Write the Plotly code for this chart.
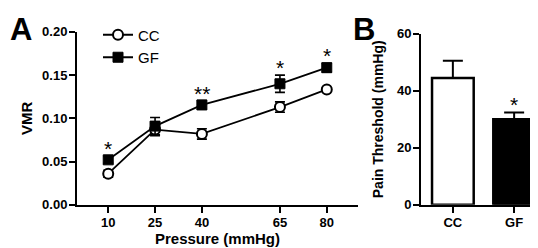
import plotly.graph_objects as go

# Panel A data
pressure = [10, 25, 40, 65, 80]
cc_vmr = [0.036, 0.087, 0.082, 0.113, 0.1335]
cc_err = [0.004, 0.007, 0.006, 0.006, 0.002]
gf_vmr = [0.052, 0.091, 0.1155, 0.140, 0.1586]
gf_err = [0.004, 0.010, 0.005, 0.010, 0.005]
sig_a = ["*", "", "**", "*", "*"]

# Panel B data
groups = ["CC", "GF"]
threshold = [44.5, 30.0]
threshold_err = [6.0, 2.4]
sig_b = ["", "*"]

FONT = "Liberation Sans, Arial, sans-serif"

fig = go.Figure()

fig.add_trace(go.Scatter(
    x=pressure, y=cc_vmr, name="CC", mode="lines+markers",
    line=dict(color="black", width=1.8),
    marker=dict(symbol="circle", size=10, color="white", line=dict(color="black", width=2)),
    error_y=dict(type="data", array=cc_err, color="black", thickness=1.6, width=5),
    xaxis="x", yaxis="y"))
fig.add_trace(go.Scatter(
    x=pressure, y=gf_vmr, name="GF", mode="lines+markers",
    line=dict(color="black", width=1.8),
    marker=dict(symbol="square", size=10, color="black", line=dict(color="black", width=1)),
    error_y=dict(type="data", array=gf_err, color="black", thickness=1.6, width=5),
    xaxis="x", yaxis="y"))

fig.add_trace(go.Bar(
    x=groups, y=threshold, showlegend=False,
    marker=dict(color=["white", "black"], line=dict(color="black", width=2.5)),
    width=0.68,
    error_y=dict(type="data", symmetric=False, array=threshold_err,
                 arrayminus=[0, 0], color="black", thickness=2, width=10),
    xaxis="x2", yaxis="y2"))

annotations = []
for x, y, e, s in zip(pressure, gf_vmr, gf_err, sig_a):
    if s:
        annotations.append(dict(x=x, y=y + e, xref="x", yref="y", text=s,
                                showarrow=False, yanchor="bottom", yshift=-6,
                                font=dict(family=FONT, size=21, color="black")))
for g, y, e, s in zip(groups, threshold, threshold_err, sig_b):
    if s:
        annotations.append(dict(x=g, y=y + e, xref="x2", yref="y2", text=s,
                                showarrow=False, yanchor="bottom", yshift=-6,
                                font=dict(family=FONT, size=21, color="black")))
annotations.append(dict(x=0, y=1.0, xref="paper", yref="paper", text="<b>A</b>",
                        showarrow=False, xanchor="left", yanchor="top", yshift=5,
                        font=dict(family=FONT, size=31, color="black")))
annotations.append(dict(x=343 / 538, y=1.0, xref="paper", yref="paper", text="<b>B</b>",
                        showarrow=False, xanchor="left", yanchor="top", yshift=5,
                        font=dict(family=FONT, size=31, color="black")))

axis_common = dict(showline=True, linecolor="black", linewidth=2, ticks="outside",
                   ticklen=6, tickwidth=2, tickcolor="black", showgrid=False,
                   zeroline=False, ticklabelstandoff=-1,
                   tickfont=dict(family=FONT, size=13, color="black", weight="bold"))

fig.update_layout(
    width=538, height=248,
    margin=dict(l=0, r=0, t=0, b=0),
    paper_bgcolor="white", plot_bgcolor="white",
    font=dict(family=FONT, color="black"),
    showlegend=True,
    legend=dict(x=90 / 538, y=0.985, xanchor="left", yanchor="top",
                bgcolor="rgba(0,0,0,0)", font=dict(family=FONT, size=15, color="black"),
                tracegroupgap=0, itemwidth=30),
    xaxis=dict(domain=[69 / 538, 350 / 538], range=[0, 90],
               tickvals=pressure, ticktext=[str(p) for p in pressure],
               title=dict(text="<b>Pressure (mmHg)</b>", standoff=0,
                          font=dict(family=FONT, size=15, color="black")),
               anchor="y", **axis_common),
    yaxis=dict(domain=[46 / 248, 230 / 248], range=[0, 0.2],
               tickvals=[0, 0.05, 0.10, 0.15, 0.20], tickformat=".2f",
               title=dict(text="<b>VMR</b>", standoff=6,
                          font=dict(family=FONT, size=15, color="black")),
               anchor="x", **axis_common),
    xaxis2=dict(domain=[413 / 538, 1.0], range=[-0.52, 1.52],
                anchor="y2", **axis_common),
    yaxis2=dict(domain=[46 / 248, 228 / 248], range=[0, 60],
                tickvals=[0, 20, 40, 60],
                title=dict(text="<b>Pain Threshold (mmHg)</b>", standoff=10,
                           font=dict(family=FONT, size=14, color="black")),
                anchor="x2", **axis_common),
    annotations=annotations,
)

fig.write_html("out.html")
